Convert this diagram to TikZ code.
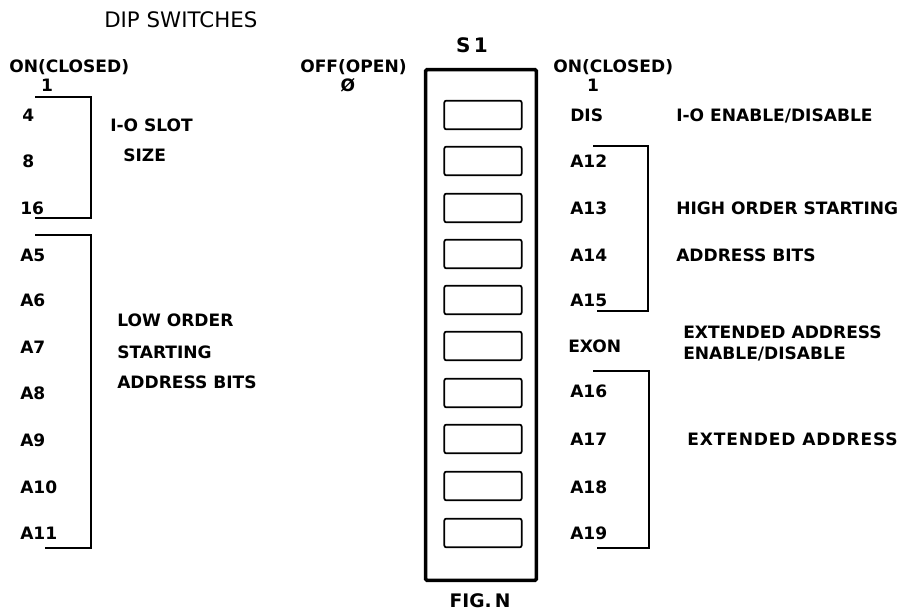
\documentclass[tikz,border=0pt]{standalone}
\usepackage{fontspec}
\setmainfont{DejaVu Sans}
\usetikzlibrary{positioning}

\begin{document}
\begin{tikzpicture}[
    x=0.75pt, y=-0.75pt,
    lbl/.style={font=\bfseries\fontsize{12.8}{15.75}\selectfont, inner sep=0pt, anchor=west, text depth=0pt},
    title/.style={font=\fontsize{16}{18}\selectfont, inner sep=0pt, anchor=west},
    switch/.style={draw, line width=1.3pt, rounded corners=1.5pt, minimum width=58pt, minimum height=21.5pt, inner sep=0pt},
    body/.style={draw, line width=2.6pt, rounded corners=1pt, minimum width=83pt, minimum height=383pt, inner sep=0pt},
    bracket/.style={line width=1.4pt}
]
\useasboundingbox (0,0) rectangle (901,616);

% Heading
\node[title] (dip) at (104,20) {DIP SWITCHES};
\node[lbl] (onl) at (9,66) {ON(CLOSED)};
\node[lbl, anchor=center] (onlone) at (47,85) {1};

% Slot size
\node[lbl] (s4) at (22,115) {4};
\node[lbl] (s8) at (22,161) {8};
\node[lbl] (s16) at (20,208) {16};
\node[lbl] (slot) at (110,125) {I-O SLOT};
\node[lbl] (size) at (123,155) {SIZE};
\draw[bracket] (35,97) -- (91,97) -- (91,218) -- (35,218);

% Low order address
\node[lbl] (a5) at (20,255) {A5};
\node[lbl] (a6) at (20,300) {A6};
\node[lbl] (a7) at (20,347) {A7};
\node[lbl] (a8) at (20,393) {A8};
\node[lbl] (a9) at (20,440) {A9};
\node[lbl] (a10) at (20,487) {A10};
\node[lbl] (a11) at (20,533) {A11};
\node[lbl, align=left, anchor=north west] (low) at (117,314) {LOW ORDER\\[8pt]STARTING\\[7pt]ADDRESS BITS};
\draw[bracket] (35,235) -- (91,235) -- (91,548) -- (45,548);

% Switch body
\node[title, anchor=center, font=\bfseries\fontsize{15}{18}\selectfont] (s1) at (472,45) {S\,1};
\node[lbl] (off) at (300,66) {OFF(OPEN)};
\node[lbl, anchor=center] (offzero) at (348,85) {Ø};
\node[body] (box) at (481,325) {};
\node[switch] (sw1) at (483,115) {};
\node[switch] (sw2) at (483,161) {};
\node[switch] (sw3) at (483,208) {};
\node[switch] (sw4) at (483,254) {};
\node[switch] (sw5) at (483,300) {};
\node[switch] (sw6) at (483,346) {};
\node[switch] (sw7) at (483,393) {};
\node[switch] (sw8) at (483,439) {};
\node[switch] (sw9) at (483,486) {};
\node[switch] (sw10) at (483,533) {};
\node[lbl, anchor=center, font=\bfseries\fontsize{14}{16}\selectfont] (fig) at (480,601) {FIG.\,N};

% Right column
\node[lbl] (onr) at (553,66) {ON(CLOSED)};
\node[lbl, anchor=center] (onrone) at (593,85) {1};
\node[lbl] (dis) at (570,115) {DIS};
\node[lbl] (a12) at (570,161) {A12};
\node[lbl] (a13) at (570,208) {A13};
\node[lbl] (a14) at (570,255) {A14};
\node[lbl] (a15) at (570,300) {A15};
\node[lbl] (exon) at (568,346) {EXON};
\node[lbl] (a16) at (570,391) {A16};
\node[lbl] (a17) at (570,439) {A17};
\node[lbl] (a18) at (570,487) {A18};
\node[lbl] (a19) at (570,533) {A19};
\draw[bracket] (593,146) -- (648,146) -- (648,311) -- (597,311);
\draw[bracket] (593,371) -- (649,371) -- (649,548) -- (597,548);

% Right notes
\node[lbl] (ioen) at (676,115) {I-O ENABLE/DISABLE};
\node[lbl] (high) at (676,208) {HIGH ORDER STARTING};
\node[lbl] (bits) at (676,255) {ADDRESS BITS};
\node[lbl, align=left, anchor=north west] (exten) at (683,326) {EXTENDED ADDRESS\\ENABLE/DISABLE};
\node[lbl, font=\bfseries\fontsize{12.8}{15}\selectfont\addfontfeature{LetterSpace=5}] (ext) at (687,439) {EXTENDED ADDRESS};

\end{tikzpicture}
\end{document}
